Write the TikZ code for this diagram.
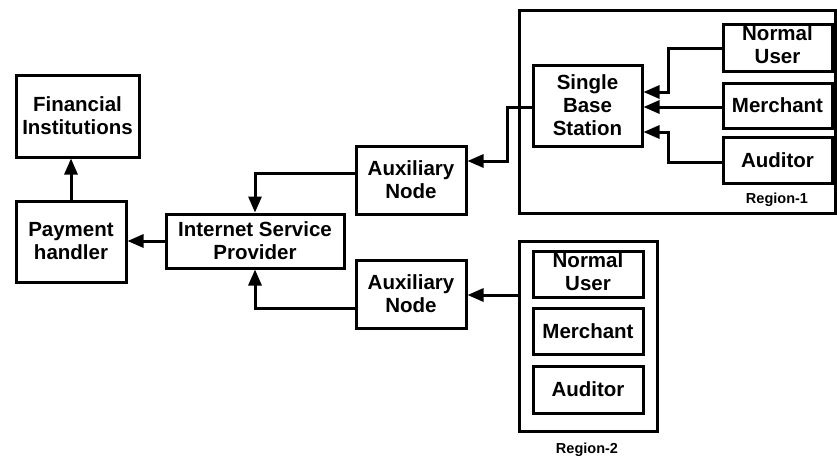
\documentclass[tikz,border=0pt]{standalone}
\usepackage{fontspec}
\setmainfont{Liberation Sans}
\usetikzlibrary{arrows.meta}
\begin{document}
\begin{tikzpicture}[x=1pt,y=-1pt,
  box/.style={draw,line width=3pt,align=center,inner sep=0pt,font=\fontsize{20.5}{23}\selectfont\bfseries},
  conn/.style={line width=3pt,-{Triangle[length=16pt,width=13pt]}},
  lbl/.style={font=\fontsize{14.5}{16}\selectfont\bfseries}]
\useasboundingbox (0,0) rectangle (837,459);
% region frames
\draw[line width=3pt] (519,10) rectangle (835,213);
\draw[line width=3pt] (519,241) rectangle (657,431);
\node[lbl] (r1) at (777,200) {Region-1};
\node[lbl] (r2) at (587,450) {Region-2};
\coordinate (r2w) at (519,295);
% nodes
\node[box,minimum width=123pt,minimum height=82pt] (fi) at (77.5,116) {Financial\\Institutions};
\node[box,minimum width=110pt,minimum height=81pt] (ph) at (71,241.5) {Payment\\handler};
\node[box,minimum width=178pt,minimum height=54pt] (isp) at (255,241) {Internet Service\\Provider};
\node[box,minimum width=110pt,minimum height=68pt] (aux1) at (411,180) {Auxiliary\\Node};
\node[box,minimum width=110pt,minimum height=68pt] (aux2) at (411,294) {Auxiliary\\Node};
\node[box,minimum width=109pt,minimum height=81pt] (sbs) at (587.5,105.5) {Single\\Base\\Station};
\node[box,minimum width=109pt,minimum height=47pt] (nu1) at (777.5,47.5) {\raisebox{5pt}{\begin{tabular}{@{}c@{}}Normal\\User\end{tabular}}};
\node[box,minimum width=109pt,minimum height=45pt] (me1) at (777.5,105.5) {Merchant};
\node[box,minimum width=109pt,minimum height=46pt] (au1) at (777.5,160) {Auditor};
\node[box,minimum width=110pt,minimum height=46pt] (nu2) at (588,274) {\raisebox{5pt}{\begin{tabular}{@{}c@{}}Normal\\User\end{tabular}}};
\node[box,minimum width=110pt,minimum height=46pt] (me2) at (588,331) {Merchant};
\node[box,minimum width=110pt,minimum height=47pt] (au2) at (588,389.5) {Auditor};
% connectors
\draw[conn] (nu1.west |- 0,48) -- (668,48) -- (668,92) -- (sbs.east |- 0,92);
\draw[conn] (me1.west |- 0,107) -- (sbs.east |- 0,107);
\draw[conn] (au1.west |- 0,162) -- (668,162) -- (668,132) -- (sbs.east |- 0,132);
\draw[conn] (sbs.west |- 0,107) -- (507,107) -- (507,161) -- (aux1.east |- 0,161);
\draw[conn] (aux1.west |- 0,173) -- (255,173) -- (isp.north);
\draw[conn] (aux2.west |- 0,308) -- (255,308) -- (isp.south);
\draw[conn] (r2w) -- (aux2.east |- r2w);
\draw[conn] (isp.west) -- (ph.east |- isp.west);
\draw[conn] (ph.north) -- (ph.north |- fi.south);
\end{tikzpicture}
\end{document}
